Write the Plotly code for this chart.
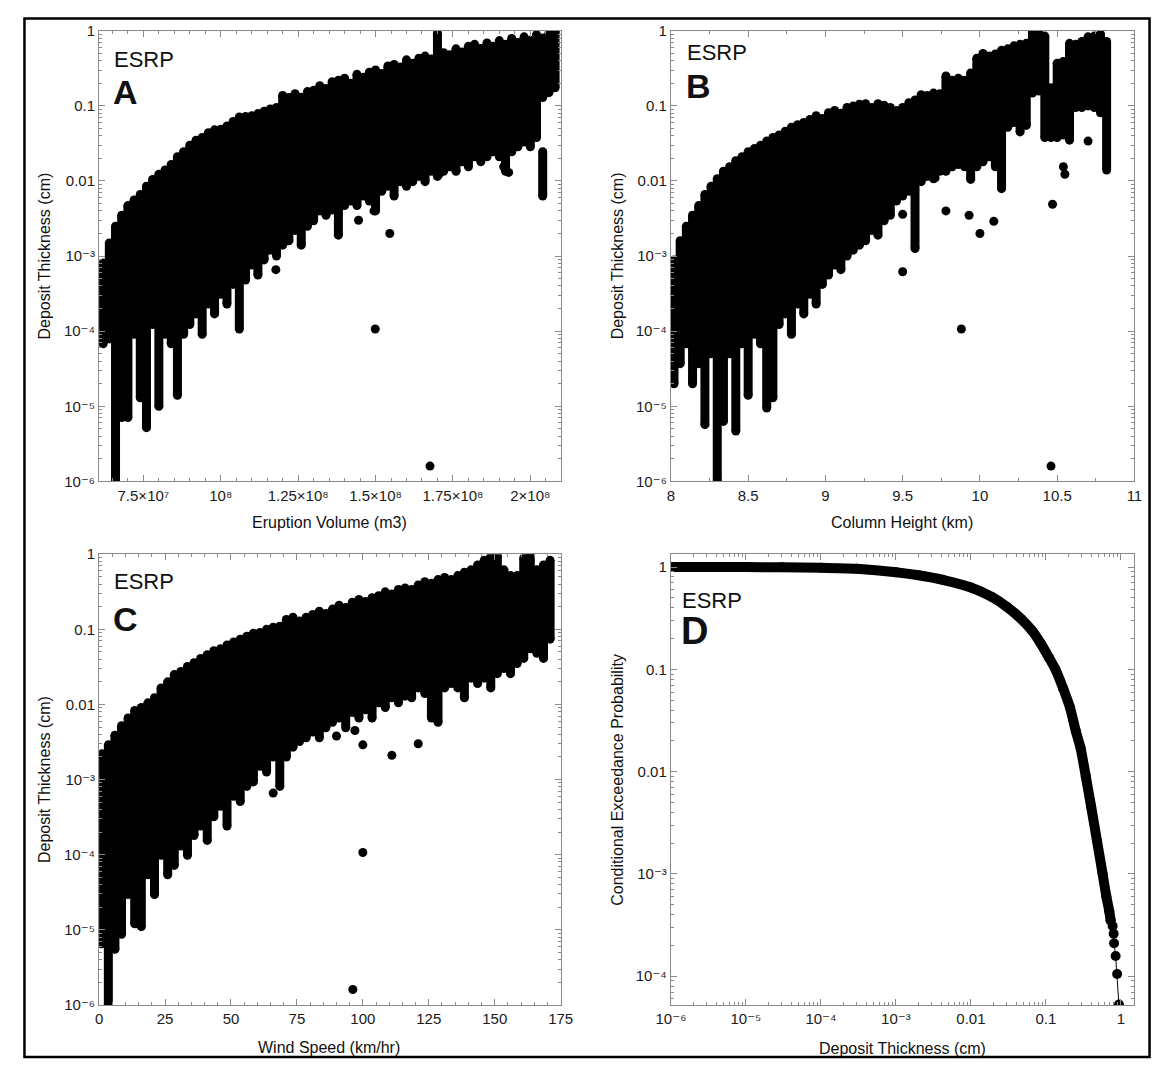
import plotly.graph_objects as go

# page body keeps its default 8px margin, so the figure is 16px smaller than the window
OFF = 8
W, H = 1156, 1059

# ---------------- Panel A : eruption volume (m3) vs deposit thickness (cm) ----------------
A_x = [6.2e7, 6.4e7, 6.6e7, 6.8e7, 7.0e7, 7.2e7, 7.4e7, 7.6e7, 7.8e7, 8.0e7,
       8.2e7, 8.4e7, 8.6e7, 8.8e7, 9.0e7, 9.2e7, 9.4e7, 9.6e7, 9.8e7, 10.0e7,
       10.2e7, 10.4e7, 10.6e7, 10.8e7, 11.0e7, 11.2e7, 11.4e7, 11.6e7, 11.8e7, 12.0e7,
       12.2e7, 12.4e7, 12.6e7, 12.8e7, 13.0e7, 13.2e7, 13.4e7, 13.6e7, 13.8e7, 14.0e7,
       14.2e7, 14.4e7, 14.6e7, 14.8e7, 15.0e7, 15.2e7, 15.4e7, 15.6e7, 15.8e7, 16.0e7,
       16.2e7, 16.4e7, 16.6e7, 16.8e7, 17.0e7, 17.2e7, 17.4e7, 17.6e7, 17.8e7, 18.0e7,
       18.2e7, 18.4e7, 18.6e7, 18.8e7, 19.0e7, 19.2e7, 19.4e7, 19.6e7, 19.8e7, 20.0e7,
       20.2e7, 20.4e7, 20.6e7, 20.8e7]
A_top = [8.1e-4, 1.5e-3, 2.5e-3, 3.5e-3, 4.7e-3, 5.6e-3, 6.6e-3, 8.5e-3, 0.0105, 0.0123,
         0.014, 0.0166, 0.021, 0.0245, 0.030, 0.035, 0.038, 0.044, 0.048, 0.049,
         0.054, 0.062, 0.071, 0.072, 0.074, 0.079, 0.085, 0.091, 0.095, 0.138,
         0.129, 0.145, 0.13, 0.155, 0.162, 0.186, 0.17, 0.21, 0.22, 0.234,
         0.2, 0.263, 0.24, 0.28, 0.30, 0.27, 0.34, 0.355, 0.33, 0.41,
         0.37, 0.43, 0.46, 0.42, 0.93, 0.51, 0.48, 0.575, 0.52, 0.62,
         0.66, 0.58, 0.69, 0.62, 0.74, 0.66, 0.79, 0.70, 0.83, 0.75,
         0.89, 0.80, 0.93, 0.98]
A_bot = [6.8e-5, 7.9e-5, 1.0e-6, 7.1e-6, 7.1e-6, 9.1e-5, 1.3e-5, 5.2e-6, 1.23e-4, 1.0e-5,
         9.1e-5, 6.8e-5, 1.4e-5, 9.1e-5, 1.23e-4, 1.7e-4, 9.1e-5, 2.3e-4, 1.7e-4, 3.1e-4,
         2.3e-4, 4.2e-4, 1.07e-4, 4.8e-4, 7.6e-4, 5.6e-4, 8.9e-4, 1.2e-3, 1.0e-3, 1.4e-3,
         1.6e-3, 2.2e-3, 1.4e-3, 2.5e-3, 2.95e-3, 4.0e-3, 3.5e-3, 4.7e-3, 1.9e-3, 4.7e-3,
         5.4e-3, 4.7e-3, 6.3e-3, 5.4e-3, 4.0e-3, 7.3e-3, 8.5e-3, 6.3e-3, 9.8e-3, 8.5e-3,
         9.8e-3, 0.0115, 9.8e-3, 0.0135, 0.0115, 0.0135, 0.0155, 0.0135, 0.018, 0.0155,
         0.021, 0.018, 0.021, 0.0245, 0.021, 0.0135, 0.0245, 0.0285, 0.033, 0.0285,
         0.038, 0.129, 0.15, 0.174]
A_extra_x = [20.4e7]
A_extra_top = [0.0245]
A_extra_bot = [6.3e-3]
A_dot_x = [1.185e8, 1.178e8, 1.359e8, 1.445e8, 1.495e8, 1.546e8, 1.499e8, 1.705e8,
           1.914e8, 1.930e8, 1.676e8, 1.851e8]
A_dot_y = [2.8e-3, 6.6e-4, 4.1e-3, 3.0e-3, 4.0e-3, 2.0e-3, 1.07e-4, 0.0123,
           0.0155, 0.013, 1.6e-6, 0.038]

# ---------------- Panel B : column height (km) ----------------
B_x = [8.02, 8.06, 8.10, 8.14, 8.18, 8.22, 8.26, 8.30, 8.34, 8.38,
       8.42, 8.46, 8.50, 8.54, 8.58, 8.62, 8.66, 8.70, 8.74, 8.78,
       8.82, 8.86, 8.90, 8.94, 8.98, 9.02, 9.06, 9.10, 9.14, 9.18,
       9.22, 9.26, 9.30, 9.34, 9.38, 9.42, 9.46, 9.50, 9.54, 9.58,
       9.62, 9.66, 9.70, 9.74, 9.78, 9.82, 9.86, 9.90, 9.94, 9.98,
       10.02, 10.06, 10.10, 10.14, 10.18, 10.22, 10.26, 10.30, 10.34, 10.38,
       10.42, 10.46, 10.50, 10.54, 10.58, 10.62, 10.66, 10.70, 10.74, 10.78,
       10.82]
B_top = [8.9e-4, 1.6e-3, 2.5e-3, 3.5e-3, 4.7e-3, 6.6e-3, 8.5e-3, 0.0107, 0.0135, 0.0155,
         0.0186, 0.021, 0.0245, 0.027, 0.030, 0.034, 0.038, 0.041, 0.046, 0.052,
         0.056, 0.060, 0.066, 0.074, 0.068, 0.081, 0.087, 0.080, 0.095, 0.10,
         0.105, 0.107, 0.095, 0.107, 0.102, 0.095, 0.087, 0.095, 0.11, 0.12,
         0.141, 0.138, 0.148, 0.145, 0.25, 0.22, 0.234, 0.22, 0.275, 0.43,
         0.50, 0.46, 0.49, 0.55, 0.575, 0.63, 0.66, 0.68, 0.98, 0.95,
         0.85, 0.174, 0.37, 0.39, 0.68, 0.66, 0.72, 0.83, 0.85, 0.91,
         0.72]
B_bot = [2.0e-5, 3.7e-5, 6.8e-5, 2.0e-5, 3.7e-5, 5.7e-6, 5.0e-5, 1.0e-6, 6.3e-6, 5.0e-5,
         4.7e-6, 6.8e-5, 1.4e-5, 9.1e-5, 6.8e-5, 9.5e-6, 1.3e-5, 1.23e-4, 1.7e-4, 9.1e-5,
         2.3e-4, 1.7e-4, 3.1e-4, 2.3e-4, 4.2e-4, 5.6e-4, 7.6e-4, 6.6e-4, 1.0e-3, 1.2e-3,
         1.4e-3, 1.6e-3, 2.2e-3, 1.9e-3, 2.95e-3, 3.5e-3, 5.4e-3, 6.3e-3, 7.3e-3, 1.26e-3,
         9.8e-3, 0.0115, 0.0107, 0.0135, 0.0135, 0.0155, 0.0166, 0.0155, 0.0105, 0.0155,
         0.018, 0.021, 0.0155, 7.9e-3, 0.052, 0.060, 0.045, 0.055, 0.148, 0.158,
         0.038, 0.038, 0.038, 0.041, 0.035, 0.095, 0.095, 0.10, 0.095, 0.081,
         0.014]
B_dot_x = [9.50, 9.50, 9.71, 9.78, 9.93, 10.00, 10.09, 9.88, 10.46, 10.47, 10.54, 10.55, 10.70]
B_dot_y = [6.2e-4, 3.6e-3, 0.011, 4.0e-3, 3.5e-3, 2.0e-3, 2.9e-3, 1.07e-4, 1.6e-6, 4.9e-3,
           0.0155, 0.0123, 0.034]

# ---------------- Panel C : wind speed (km/hr) ----------------
C_x = [1, 3.5, 6, 8.5, 11, 13.5, 16, 18.5, 21, 23.5,
       26, 28.5, 31, 33.5, 36, 38.5, 41, 43.5, 46, 48.5,
       51, 53.5, 56, 58.5, 61, 63.5, 66, 68.5, 71, 73.5,
       76, 78.5, 81, 83.5, 86, 88.5, 91, 93.5, 96, 98.5,
       101, 103.5, 106, 108.5, 111, 113.5, 116, 118.5, 121, 123.5,
       126, 128.5, 131, 133.5, 136, 138.5, 141, 143.5, 146, 148.5,
       151, 153.5, 156, 158.5, 161, 163.5, 166, 168.5, 171]
C_top = [2.2e-3, 2.9e-3, 3.9e-3, 5.2e-3, 6.6e-3, 8.3e-3, 9.1e-3, 0.0105, 0.0123, 0.0166,
         0.020, 0.025, 0.0275, 0.032, 0.036, 0.041, 0.046, 0.052, 0.055, 0.062,
         0.068, 0.074, 0.081, 0.089, 0.091, 0.10, 0.107, 0.11, 0.135, 0.145,
         0.129, 0.145, 0.158, 0.174, 0.162, 0.186, 0.21, 0.195, 0.23, 0.25,
         0.234, 0.263, 0.28, 0.316, 0.295, 0.34, 0.355, 0.34, 0.39, 0.43,
         0.41, 0.46, 0.49, 0.46, 0.52, 0.575, 0.62, 0.72, 0.83, 0.93,
         0.95, 0.62, 0.52, 0.52, 0.89, 1.0, 0.62, 0.72, 0.83]
C_bot = [6.5e-6, 1.0e-6, 5.5e-6, 8.7e-6, 2.95e-5, 1.2e-5, 1.1e-5, 5.4e-5, 2.95e-5, 9.8e-5,
         5.4e-5, 7.2e-5, 1.3e-4, 9.8e-5, 1.8e-4, 2.4e-4, 1.55e-4, 3.2e-4, 4.4e-4, 2.4e-4,
         6.0e-4, 5.1e-4, 8.1e-4, 9.3e-4, 1.5e-3, 1.26e-3, 2.0e-3, 8.1e-4, 2.0e-3, 2.7e-3,
         3.2e-3, 3.6e-3, 4.3e-3, 3.6e-3, 4.9e-3, 5.8e-3, 6.6e-3, 4.9e-3, 7.8e-3, 6.6e-3,
         8.5e-3, 6.6e-3, 0.0105, 9.1e-3, 0.0123, 0.0105, 0.0129, 0.0123, 0.0166, 0.014,
         6.6e-3, 5.8e-3, 0.0166, 0.019, 0.0166, 0.0123, 0.0224, 0.019, 0.0224, 0.0166,
         0.0257, 0.030, 0.0257, 0.035, 0.041, 0.055, 0.048, 0.041, 0.074]
C_dot_x = [66, 90, 97, 100, 111, 121, 100, 96.2]
C_dot_y = [6.6e-4, 3.8e-3, 4.5e-3, 2.9e-3, 2.1e-3, 3.0e-3, 1.07e-4, 1.6e-6]

# ---------------- Panel D : conditional exceedance probability ----------------
D_thick = [1e-6, 1e-5, 3e-5, 1e-4, 3e-4, 1e-3, 2e-3, 4.2e-3, 0.01, 0.019,
           0.03, 0.047, 0.065, 0.085, 0.11, 0.134, 0.17, 0.21, 0.25, 0.29,
           0.34, 0.40, 0.48, 0.57, 0.64, 0.70, 0.73]
D_prob = [1.0, 0.998, 0.995, 0.985, 0.96, 0.89, 0.83, 0.75, 0.63, 0.51,
          0.41, 0.31, 0.24, 0.18, 0.13, 0.10, 0.065, 0.042, 0.025, 0.017,
          0.009, 0.0046, 0.0021, 1.0e-3, 6.0e-4, 4.3e-4, 3.5e-4]
D_tail_thick = [0.73, 0.776, 0.80, 0.81, 0.85, 0.89, 0.94]
D_tail_prob = [3.5e-4, 3.1e-4, 2.6e-4, 2.1e-4, 1.58e-4, 1.05e-4, 5.3e-5]

# tick labels (unicode superscripts)
A_tickvals = [7.5e7, 1e8, 1.25e8, 1.5e8, 1.75e8, 2e8]
A_ticktext = ["7.5×10⁷", "10⁸", "1.25×10⁸", "1.5×10⁸", "1.75×10⁸", "2×10⁸"]
B_tickvals = [8, 8.5, 9, 9.5, 10, 10.5, 11]
B_ticktext = ["8", "8.5", "9", "9.5", "10", "10.5", "11"]
C_tickvals = [0, 25, 50, 75, 100, 125, 150, 175]
C_ticktext = ["0", "25", "50", "75", "100", "125", "150", "175"]
T_tickvals = [1e-6, 1e-5, 1e-4, 1e-3, 0.01, 0.1, 1]
T_ticktext = ["10⁻⁶", "10⁻⁵", "10⁻⁴", "10⁻³", "0.01", "0.1", "1"]
P_tickvals = [1e-4, 1e-3, 0.01, 0.1, 1]
P_ticktext = ["10⁻⁴", "10⁻³", "0.01", "0.1", "1"]

FONT = "Liberation Sans, Arial, DejaVu Sans, sans-serif"
DOT = 9


def px(x):
    return (x - OFF) / W


def py(y):
    return 1 - (y - OFF) / H


def stripe_xy(xs, tops, bots):
    X, Y = [], []
    for x, t, b in zip(xs, tops, bots):
        X += [x, x, None]
        Y += [b, t, None]
    return X, Y


fig = go.Figure()


def add_stripes(xs, tops, bots, xa, ya):
    X, Y = stripe_xy(xs, tops, bots)
    fig.add_trace(go.Scatter(x=X, y=Y, mode="lines+markers", xaxis=xa, yaxis=ya,
                             line=dict(color="black", width=DOT),
                             marker=dict(color="black", size=DOT),
                             connectgaps=False, showlegend=False, hoverinfo="skip"))


def add_dots(dx, dy, xa, ya):
    fig.add_trace(go.Scatter(x=dx, y=dy, mode="markers", xaxis=xa, yaxis=ya,
                             marker=dict(color="black", size=DOT),
                             showlegend=False, hoverinfo="skip"))


add_stripes(A_x, A_top, A_bot, "x", "y")
add_stripes(A_extra_x, A_extra_top, A_extra_bot, "x", "y")
add_dots(A_dot_x, A_dot_y, "x", "y")
add_stripes(B_x, B_top, B_bot, "x2", "y2")
add_dots(B_dot_x, B_dot_y, "x2", "y2")
add_stripes(C_x, C_top, C_bot, "x3", "y3")
add_dots(C_dot_x, C_dot_y, "x3", "y3")

fig.add_trace(go.Scatter(x=D_thick, y=D_prob, mode="lines+markers", xaxis="x4", yaxis="y4",
                         line=dict(color="black", width=10, shape="spline", smoothing=0.6),
                         marker=dict(color="black", size=10),
                         showlegend=False, hoverinfo="skip"))
fig.add_trace(go.Scatter(x=D_tail_thick, y=D_tail_prob, mode="lines+markers", xaxis="x4", yaxis="y4",
                         line=dict(color="black", width=1), marker=dict(color="black", size=10),
                         showlegend=False, hoverinfo="skip"))

AX = "#8a8a8a"
common = dict(showline=True, linecolor=AX, linewidth=1.2, mirror="ticks", ticks="inside",
              ticklen=6, tickcolor=AX, tickwidth=1, showgrid=False, zeroline=False,
              tickfont=dict(family=FONT, size=15, color="#1a1a1a"))


def lin_minor(d):
    return dict(ticks="inside", ticklen=3, tickcolor=AX, dtick=d, showgrid=False)


log_minor = dict(ticks="inside", ticklen=3, tickcolor=AX, dtick="D1", showgrid=False)

xl, xr = px(86), px(559)
xl2, xr2 = px(672), px(1147)
yt1, yb1 = py(22), py(480)
yt2, yb2 = py(554), py(1012)

fig.update_layout(
    width=W, height=H, margin=dict(l=0, r=0, t=0, b=0),
    paper_bgcolor="white", plot_bgcolor="white",
    xaxis=dict(domain=[xl, xr], anchor="y", range=[6.07e7, 2.098e8], tickmode="array",
               tickvals=A_tickvals, ticktext=A_ticktext, minor=lin_minor(5e6), **common),
    yaxis=dict(domain=[yb1, yt1], anchor="x", type="log", range=[-6, 0], tickmode="array",
               tickvals=T_tickvals, ticktext=T_ticktext, minor=log_minor, **common),
    xaxis2=dict(domain=[xl2, xr2], anchor="y2", range=[8, 11], tickmode="array",
                tickvals=B_tickvals, ticktext=B_ticktext, minor=lin_minor(0.25), **common),
    yaxis2=dict(domain=[yb1, yt1], anchor="x2", type="log", range=[-6, 0], tickmode="array",
                tickvals=T_tickvals, ticktext=T_ticktext, minor=log_minor, **common),
    xaxis3=dict(domain=[xl, xr], anchor="y3", range=[0, 175], tickmode="array",
                tickvals=C_tickvals, ticktext=C_ticktext, minor=lin_minor(5), **common),
    yaxis3=dict(domain=[yb2, yt2], anchor="x3", type="log", range=[-6, 0], tickmode="array",
                tickvals=T_tickvals, ticktext=T_ticktext, minor=log_minor, **common),
    xaxis4=dict(domain=[xl2, xr2], anchor="y4", type="log", range=[-6, 0.18], tickmode="array",
                tickvals=T_tickvals, ticktext=T_ticktext, minor=log_minor, **common),
    yaxis4=dict(domain=[yb2, yt2], anchor="x4", type="log", range=[-4.28, 0.125], tickmode="array",
                tickvals=P_tickvals, ticktext=P_ticktext, minor=log_minor, **common),
)

ann = []


def txt(x, y, s, size, bold=False, angle=0, xanchor="center"):
    ann.append(dict(x=px(x), y=py(y), xref="paper", yref="paper",
                    text=("<b>%s</b>" % s) if bold else s,
                    showarrow=False, textangle=angle, xanchor=xanchor, yanchor="middle",
                    font=dict(family=FONT, size=size, color="#111")))


# axis titles
txt(322, 522, "Eruption Volume (m3)", 16)
txt(909, 522, "Column Height (km)", 16)
txt(322, 1055, "Wind Speed (km/hr)", 16)
txt(909, 1056, "Deposit Thickness (cm)", 16)
txt(30, 251, "Deposit Thickness (cm)", 16, angle=-90)
txt(617, 251, "Deposit Thickness (cm)", 16, angle=-90)
txt(30, 783, "Deposit Thickness (cm)", 16, angle=-90)
txt(617, 783, "Conditional Exceedance Probability", 16, angle=-90)

# panel labels
for (x, y1, y2, L, s) in [(99, 51, 84, "A", 34), (686, 44, 78, "B", 34),
                          (99, 582, 620, "C", 34), (681, 601, 632, "D", 38)]:
    txt(x, y1, "ESRP", 22, xanchor="left")
    txt(x - 1, y2, L, s, bold=True, xanchor="left")

fig.update_layout(annotations=ann)

fig.add_shape(type="rect", xref="paper", yref="paper", x0=px(9.5), x1=px(1162.5),
              y0=py(1065), y1=py(9.5), line=dict(color="black", width=2.5))

fig.write_html("out.html", config={"displayModeBar": False})
